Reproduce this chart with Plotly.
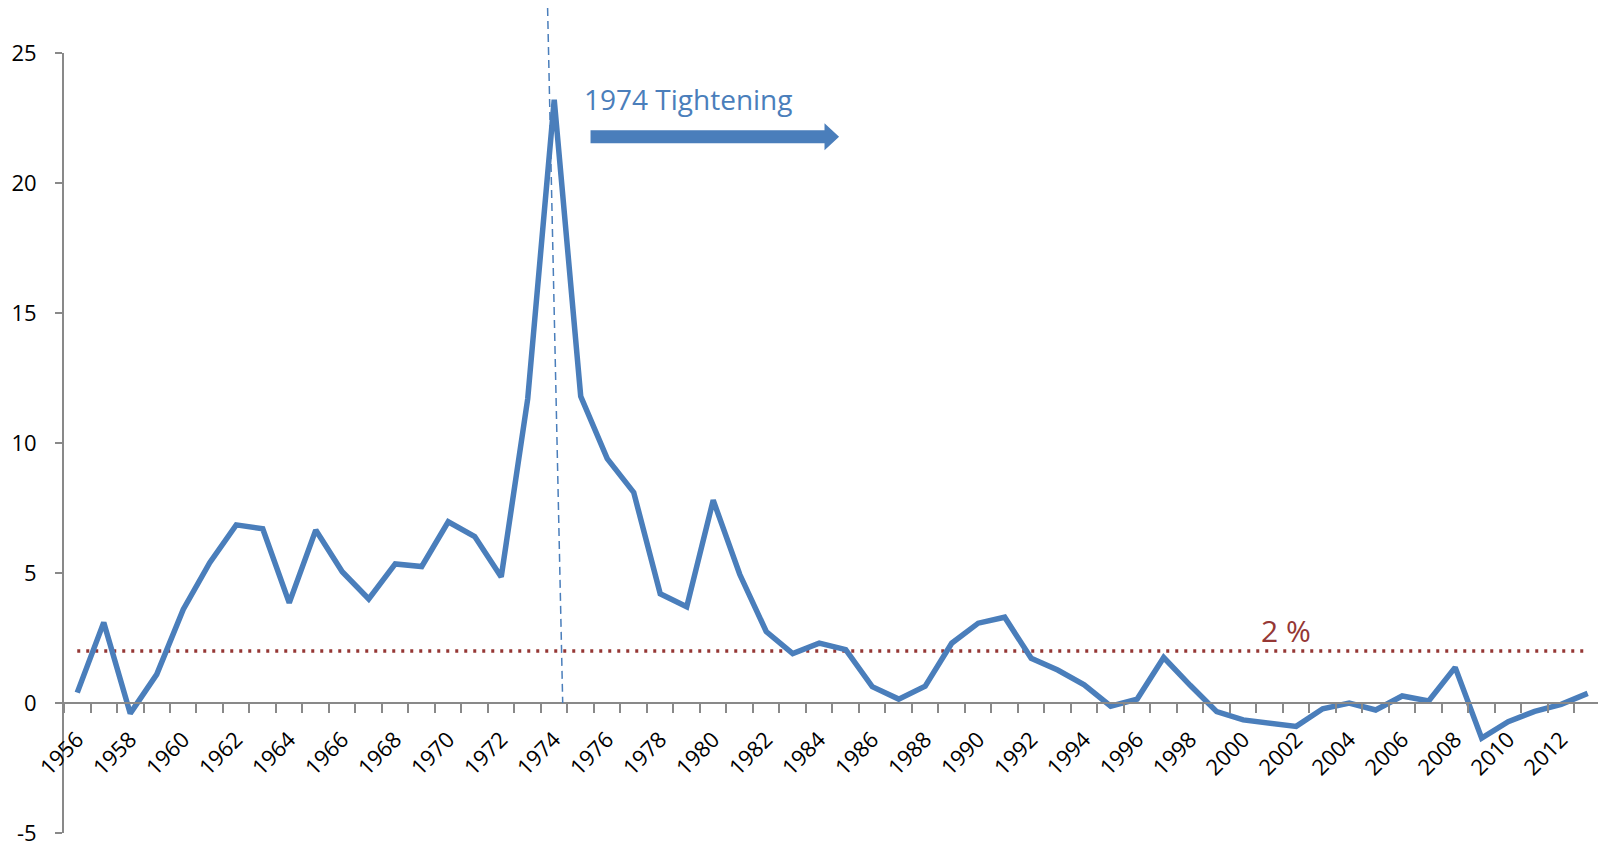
import plotly.graph_objects as go

# ---- data ----
years = list(range(1956, 2014))
inflation = [0.4, 3.1, -0.4, 1.1, 3.6, 5.4, 6.85, 6.7, 3.85, 6.65,
             5.05, 4.0, 5.35, 5.25, 6.97, 6.4, 4.85, 11.7, 23.2, 11.8,
             9.4, 8.1, 4.2, 3.7, 7.8, 4.95, 2.75, 1.9, 2.3, 2.05,
             0.63, 0.15, 0.65, 2.3, 3.07, 3.3, 1.72, 1.27, 0.7, -0.12,
             0.15, 1.75, 0.68, -0.33, -0.65, -0.8, -0.9, -0.22, 0.0, -0.27,
             0.27, 0.08, 1.37, -1.35, -0.72, -0.32, -0.05, 0.37]
target = 2.0
tick_years = years[::2]
tick_labels = [str(y) for y in tick_years]
y_ticks = [-5, 0, 5, 10, 15, 20, 25]
y_tick_labels = [str(v) for v in y_ticks]
event_year_label = "1974 Tightening"
target_label = "2 %"

# ---- styling ----
BLUE = "#4A7EBB"
RED = "#953735"
GRAY = "#898989"
FONT = "Open Sans"
XR = [1955.5, 2013.39]
YR = [-5, 25]

def xp(x):
    return (x - XR[0]) / (XR[1] - XR[0])

def yp(v):
    return (v - YR[0]) / (YR[1] - YR[0])

fig = go.Figure()
fig.add_trace(go.Scatter(x=[years[0], years[-1]], y=[target, target], mode="lines",
                         line=dict(color=RED, width=3.5, dash="3px,6px"),
                         hoverinfo="skip", showlegend=False))
fig.add_trace(go.Scatter(x=years, y=inflation, mode="lines",
                         line=dict(color=BLUE, width=5.5), showlegend=False))

# dashed vertical marker around 1974
fig.add_shape(type="line", xref="paper", yref="paper",
              x0=xp(1973.75), y0=yp(26.73), x1=xp(1974.32), y1=yp(0),
              line=dict(color=BLUE, width=1.5, dash="8px,5px"))

# thick arrow
ax0, axh, axt, ay, sh, hh = 1975.37, 1984.2, 1984.75, 21.78, 0.25, 0.52
path = (f"M {ax0},{ay - sh} L {axh},{ay - sh} L {axh},{ay - hh} L {axt},{ay} "
        f"L {axh},{ay + hh} L {axh},{ay + sh} L {ax0},{ay + sh} Z")
fig.add_shape(type="path", path=path, xref="x", yref="y",
              fillcolor=BLUE, line=dict(width=0))

fig.add_annotation(x=1975.05, y=23.25, text=event_year_label, showarrow=False,
                   xanchor="left", yanchor="middle",
                   font=dict(family=FONT, size=28, color=BLUE))
fig.add_annotation(x=2001.6, y=2.8, text=target_label, showarrow=False,
                   xanchor="center", yanchor="middle",
                   font=dict(family=FONT, size=30, color=RED))

fig.update_layout(
    width=1598, height=845,
    margin=dict(l=64, r=0, t=53, b=12, autoexpand=False),
    paper_bgcolor="white", plot_bgcolor="white",
    font=dict(family=FONT, size=22, color="black"),
    showlegend=False,
    xaxis=dict(range=XR, anchor="free", position=yp(0), automargin=False,
               tickmode="array", tickvals=tick_years, ticktext=tick_labels,
               tickangle=-45, ticks="", ticklabelstandoff=14,
               showline=True, linecolor=GRAY, linewidth=2,
               showgrid=False, zeroline=False,
               minor=dict(tick0=1955.5, dtick=1, ticks="outside", ticklen=9,
                          tickcolor=GRAY, tickwidth=2, showgrid=False)),
    yaxis=dict(range=YR, tickmode="array", tickvals=y_ticks,
               ticktext=y_tick_labels, automargin=False,
               ticks="outside", ticklen=7, tickcolor=GRAY, tickwidth=2,
               ticklabelstandoff=14, ticklabeloverflow="allow",
               showline=True, linecolor=GRAY, linewidth=2,
               showgrid=False, zeroline=False),
)

fig.write_html("out.html",
               config={"displayModeBar": False},
               post_script="document.body.style.margin='0';"
                           "document.body.style.overflow='hidden';")
